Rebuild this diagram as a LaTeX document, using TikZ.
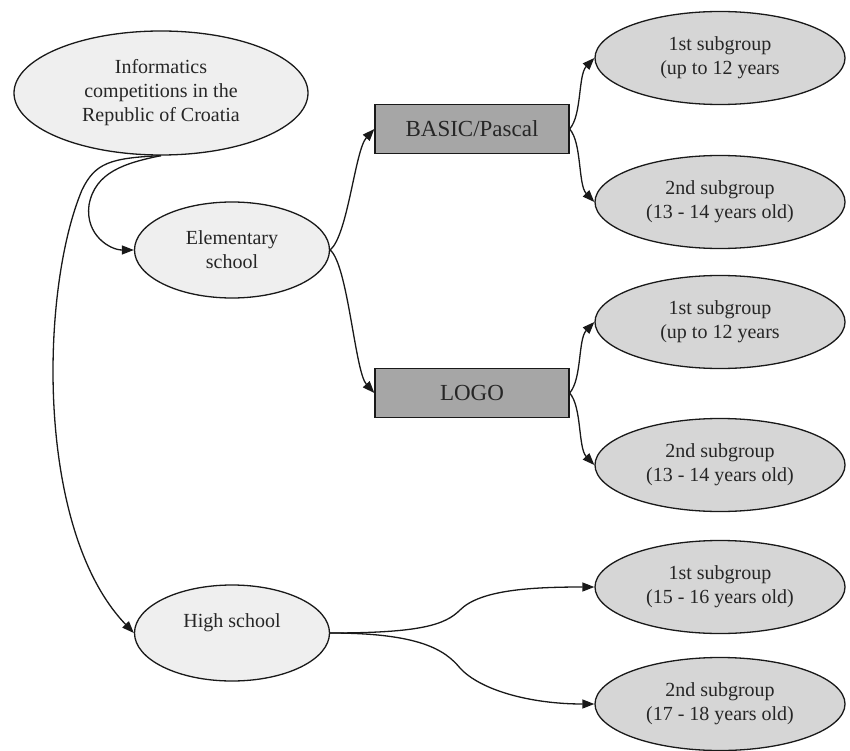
\documentclass[tikz,border=0pt]{standalone}
\usepackage{fontspec}
\setmainfont{Liberation Serif}
\usepackage{tikz}
\usepackage{xcolor}
\usetikzlibrary{arrows.meta, shapes.geometric}
\definecolor{paleGray}{HTML}{EFEFEF}
\definecolor{groupGray}{HTML}{D6D6D6}
\definecolor{boxGray}{HTML}{A6A6A6}
\tikzset{
    baseNode/.style={draw=black!90, line width=1.3pt, inner sep=0pt, align=center, text=black!85, font=\fontsize{20}{24}\selectfont},
    schoolNode/.style={baseNode, ellipse, fill=paleGray, minimum width=195pt, minimum height=96pt},
    groupNode/.style={baseNode, ellipse, fill=groupGray, minimum width=250pt, minimum height=93pt},
    langBox/.style={baseNode, rectangle, fill=boxGray, minimum width=194pt, minimum height=49pt, font=\fontsize{23}{27}\selectfont},
    flowArrow/.style={->, line width=1.3pt, draw=black!90}
}

\begin{document}
\begin{tikzpicture}[x=1pt, y=-1pt, >={Triangle[length=12pt, width=9pt]}]
    \useasboundingbox (0,0) rectangle (850,751);
    % left column
    \node[baseNode, ellipse, fill=paleGray, minimum width=294pt, minimum height=124pt] (Root) at (161,93) {Informatics\\competitions in the\\Republic of Croatia};
    \node[schoolNode] (Elem) at (232,250) {Elementary\\school};
    \node[schoolNode] (High) at (232,633) {High school\\\mbox{}};
    % languages
    \node[langBox] (Basic) at (472,129) {BASIC/Pascal};
    \node[langBox] (Logo) at (472,393) {LOGO};
    % subgroups
    \node[groupNode] (BasicOne) at (720,58)  {1st subgroup\\(up to 12 years};
    \node[groupNode] (BasicTwo) at (720,202) {2nd subgroup\\(13 - 14 years old)};
    \node[groupNode] (LogoOne)  at (720,322) {1st subgroup\\(up to 12 years};
    \node[groupNode] (LogoTwo)  at (720,465) {2nd subgroup\\(13 - 14 years old)};
    \node[groupNode] (HighOne)  at (720,587) {1st subgroup\\(15 - 16 years old)};
    \node[groupNode] (HighTwo)  at (720,704) {2nd subgroup\\(17 - 18 years old)};
    % connectors
    \draw[flowArrow] (Root.south) .. controls (125,163) and (95,172) .. (89,205) .. controls (85,235) and (110,250) .. (Elem.west);
    \draw[flowArrow] (Root.south) .. controls (110,158) and (95,163) .. (82,190) .. controls (40,290) and (35,530) .. (High.west);
    \draw[flowArrow] (Elem.east) .. controls (348,235) and (355,150) .. (Basic.west);
    \draw[flowArrow] (Elem.east) .. controls (348,265) and (355,372) .. (Logo.west);
    \draw[flowArrow] (Basic.east) .. controls (582,115) and (578,75) .. (BasicOne.west);
    \draw[flowArrow] (Basic.east) .. controls (582,143) and (578,185) .. (BasicTwo.west);
    \draw[flowArrow] (Logo.east) .. controls (582,379) and (578,339) .. (LogoOne.west);
    \draw[flowArrow] (Logo.east) .. controls (582,407) and (578,448) .. (LogoTwo.west);
    \draw[flowArrow] (High.east) .. controls (420,633) and (445,625) .. (460,610) .. controls (480,590) and (530,587) .. (HighOne.west);
    \draw[flowArrow] (High.east) .. controls (420,633) and (445,650) .. (460,668) .. controls (480,690) and (530,704) .. (HighTwo.west);
\end{tikzpicture}
\end{document}
